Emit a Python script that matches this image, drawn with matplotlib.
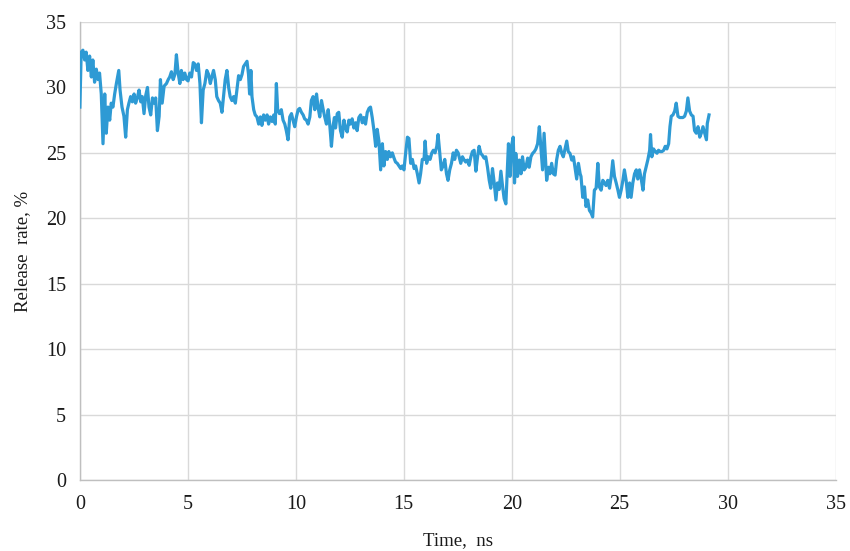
import matplotlib
matplotlib.use("Agg")
import matplotlib.pyplot as plt

# Simulation time (ns) and release rate (%)
time_ns = [
    0.00, 0.06, 0.14, 0.22, 0.29, 0.37, 0.45, 0.53, 0.60, 0.68, 0.76, 0.84, 0.91, 0.99,
    1.07, 1.15, 1.22, 1.30, 1.38, 1.45, 1.53, 1.61, 1.69, 1.80, 1.86, 1.95, 2.04, 2.12,
    2.20, 2.27, 2.35, 2.43, 2.51, 2.58, 2.66, 2.74, 2.82, 2.89, 2.97, 3.05, 3.13, 3.20,
    3.28, 3.36, 3.44, 3.51, 3.59, 3.67, 3.73, 3.81, 3.90, 4.01, 4.09, 4.16, 4.24, 4.32,
    4.40, 4.47, 4.55, 4.63, 4.70, 4.78, 4.86, 4.94, 5.01, 5.09, 5.17, 5.25, 5.32, 5.40,
    5.48, 5.56, 5.63, 5.71, 5.79, 5.88, 5.96, 6.04, 6.11, 6.19, 6.27, 6.34, 6.42, 6.50,
    6.58, 6.65, 6.73, 6.81, 6.89, 6.96, 7.04, 7.12, 7.20, 7.27, 7.35, 7.43, 7.51, 7.58,
    7.66, 7.74, 7.81, 7.86, 7.92, 7.97, 8.05, 8.12, 8.20, 8.28, 8.36, 8.43, 8.51, 8.59,
    8.67, 8.74, 8.82, 8.90, 8.98, 9.05, 9.10, 9.16, 9.24, 9.33, 9.41, 9.49, 9.56, 9.64,
    9.72, 9.80, 9.87, 9.95, 10.03, 10.11, 10.18, 10.26, 10.34, 10.41, 10.49, 10.57, 10.65,
    10.72, 10.80, 10.88, 10.96, 11.03, 11.11, 11.19, 11.27, 11.34, 11.42, 11.50, 11.58,
    11.65, 11.73, 11.79, 11.84, 11.92, 11.99, 12.07, 12.15, 12.23, 12.30, 12.38, 12.46,
    12.53, 12.61, 12.69, 12.77, 12.84, 12.92, 13.00, 13.08, 13.15, 13.23, 13.31, 13.39,
    13.46, 13.54, 13.62, 13.70, 13.77, 13.85, 13.93, 14.01, 14.08, 14.16, 14.24, 14.31,
    14.39, 14.47, 14.55, 14.62, 14.70, 14.78, 14.86, 14.93, 15.01, 15.09, 15.17, 15.24,
    15.32, 15.40, 15.48, 15.55, 15.63, 15.71, 15.78, 15.86, 15.94, 15.99, 16.06, 16.14,
    16.22, 16.30, 16.37, 16.45, 16.53, 16.59, 16.67, 16.74, 16.82, 16.90, 16.98, 17.05,
    17.13, 17.21, 17.29, 17.36, 17.44, 17.52, 17.64, 17.72, 17.80, 17.87, 17.95, 18.03,
    18.11, 18.18, 18.26, 18.34, 18.42, 18.49, 18.57, 18.65, 18.72, 18.80, 18.88, 18.96,
    19.03, 19.11, 19.19, 19.27, 19.34, 19.42, 19.50, 19.58, 19.65, 19.73, 19.81, 19.85,
    19.92, 19.99, 20.07, 20.13, 20.19, 20.27, 20.35, 20.43, 20.50, 20.58, 20.66, 20.74,
    20.81, 20.89, 20.97, 21.05, 21.12, 21.20, 21.28, 21.36, 21.43, 21.50, 21.56, 21.62,
    21.70, 21.77, 21.85, 21.93, 22.01, 22.08, 22.16, 22.24, 22.32, 22.39, 22.47, 22.55,
    22.62, 22.70, 22.78, 22.86, 22.93, 23.01, 23.09, 23.17, 23.21, 23.29, 23.37, 23.44,
    23.52, 23.60, 23.68, 23.75, 23.83, 23.91, 23.99, 24.06, 24.14, 24.22, 24.30, 24.37,
    24.45, 24.53, 24.61, 24.68, 24.76, 24.84, 24.92, 24.99, 25.07, 25.15, 25.22, 25.30,
    25.38, 25.46, 25.53, 25.61, 25.69, 25.77, 25.84, 25.92, 26.00, 26.08, 26.15, 26.23,
    26.31, 26.39, 26.43, 26.49, 26.57, 26.65, 26.73, 26.80, 26.88, 26.96, 27.04, 27.11,
    27.19, 27.27, 27.33, 27.39, 27.47, 27.55, 27.62, 27.70, 27.78, 27.86, 27.93, 28.01,
    28.09, 28.16, 28.24, 28.32, 28.40, 28.47, 28.55, 28.63, 28.71, 28.78, 28.86, 28.94,
    29.02, 29.06, 29.14,
]
release_rate = [
    28.5, 32.7, 32.85, 32.1, 32.7, 31.3, 32.4, 30.8, 32.1, 30.4, 31.4, 30.6, 31.1, 29.5,
    25.7, 29.5, 26.5, 28.5, 27.5, 28.8, 28.5, 29.5, 30.3, 31.3, 29.8, 28.5, 27.8, 26.2,
    28.3, 28.8, 29.3, 28.9, 29.5, 28.8, 29.2, 29.8, 28.9, 29.3, 28.0, 29.4, 30.0, 28.5,
    27.9, 29.2, 28.8, 29.2, 26.7, 27.8, 30.6, 28.8, 30.1, 30.3, 30.6, 30.8, 31.2, 30.6,
    31.0, 32.5, 31.1, 30.3, 31.3, 30.6, 31.1, 30.6, 30.5, 31.1, 30.8, 31.9, 31.8, 31.3,
    31.8, 30.3, 27.3, 29.8, 30.3, 31.3, 31.0, 30.3, 30.8, 31.3, 30.6, 29.3, 29.0, 28.8,
    28.1, 29.3, 30.6, 31.3, 30.0, 29.3, 29.0, 29.3, 28.8, 29.8, 30.9, 30.6, 31.0, 31.6,
    31.8, 32.0, 31.0, 29.5, 31.3, 29.3, 28.3, 27.9, 27.75, 27.2, 27.75, 27.1, 27.9, 27.5,
    27.9, 27.2, 27.75, 27.4, 27.9, 27.2, 30.3, 28.3, 28.0, 28.3, 27.5, 27.2, 26.7, 26.0,
    27.75, 28.0, 27.5, 27.0, 27.75, 28.3, 28.4, 28.1, 27.9, 27.6, 27.5, 27.2, 27.75,
    29.0, 29.3, 28.3, 29.5, 28.5, 27.75, 29.0, 28.3, 27.75, 27.2, 28.3, 27.0,
    25.5, 27.1, 27.7, 26.9, 28.0, 28.1, 26.7, 26.2, 27.5, 26.9, 26.6, 27.5,
    27.2, 27.6, 26.9, 27.3, 26.7, 27.7, 27.9, 27.3, 27.7, 27.2, 28.1, 28.4,
    28.5, 27.7, 26.7, 25.5, 26.8, 25.9, 23.7, 25.7, 24.0, 25.1, 24.5, 25.1,
    24.7, 25.0, 24.6, 24.3, 24.2, 24.0, 23.8, 24.0, 23.7, 25.0, 26.2, 26.1,
    24.2, 24.5, 23.8, 24.0, 23.4, 22.7, 23.4, 24.5, 24.5, 25.9, 24.2, 24.7,
    24.5, 25.0, 25.2, 25.0, 25.5, 26.4, 25.0, 23.7, 24.0, 24.5, 23.4, 22.9,
    23.7, 24.2, 25.0, 24.5, 25.2, 25.0, 24.2, 24.7, 24.45, 24.3, 24.45, 24.05,
    24.7, 25.1, 25.2, 23.6, 24.7, 25.5, 24.96, 24.8, 24.6, 24.7, 23.9, 22.9,
    22.3, 23.8, 22.7, 21.4, 22.7, 22.2, 23.6, 22.4, 21.5, 21.1, 24.2, 25.7,
    23.2, 25.5, 26.2, 22.7, 24.96, 23.2, 24.45, 23.4, 24.7, 23.7, 23.9, 24.6,
    23.9, 24.7, 24.96, 25.1, 25.3, 25.7, 27.0, 25.2, 23.7, 26.5, 24.7, 22.9,
    23.9, 23.4, 24.2, 23.4, 23.3, 24.45, 25.2, 25.5, 24.96, 24.7, 25.3, 25.9,
    25.1, 24.96, 24.45, 24.7, 23.9, 23.0, 24.2, 23.4, 23.2, 21.6, 22.4, 20.9,
    21.4, 20.6, 20.4, 20.1, 22.15, 22.3, 24.2, 22.4, 22.15, 22.9, 22.7, 22.5,
    22.9, 22.3, 23.2, 24.4, 23.2, 22.7, 22.15, 21.6, 22.15, 22.9, 23.7, 22.9,
    21.6, 22.7, 21.6, 22.7, 23.4, 23.7, 23.0, 23.7, 23.0, 22.15, 23.4, 23.95,
    24.5, 25.2, 26.4, 24.7, 25.3, 25.1, 24.97, 25.2, 25.1, 25.1, 25.2, 25.5,
    25.3, 25.7, 27.0, 27.8, 27.9, 28.2, 28.8, 27.8, 27.7, 27.7, 27.7, 27.8,
    28.2, 29.2, 28.2, 27.9, 27.8, 26.7, 26.5, 27.0, 26.2, 26.5, 27.0, 26.5,
    26.0, 27.25, 27.9,
]

x_ticks = [0, 5, 10, 15, 20, 25, 30, 35]
y_ticks = [0, 5, 10, 15, 20, 25, 30, 35]

plt.rcParams["font.family"] = ["Liberation Serif", "DejaVu Serif"]

fig = plt.figure(figsize=(8.5, 5.51), dpi=100)
ax = fig.add_axes([0.094, 0.129, 0.889, 0.831])

ax.plot(time_ns, release_rate, color="#2E9AD4", linewidth=2.3,
        solid_joinstyle="round", zorder=3)

ax.set_xlim(0, 35)
ax.set_ylim(0, 35)
ax.set_xticks(x_ticks)
ax.set_yticks(y_ticks)
ax.grid(True, color="#D9D9D9", linewidth=1.0, zorder=0)
ax.set_axisbelow(True)

for side in ["top", "right"]:
    ax.spines[side].set_visible(False)
for side in ["left", "bottom"]:
    ax.spines[side].set_color("#BFBFBF")
    ax.spines[side].set_linewidth(1.0)

ax.tick_params(axis="both", length=0, labelsize=14.5, colors="#1A1A1A")
ax.tick_params(axis="x", pad=11)
ax.tick_params(axis="y", pad=10)

ax.set_xlabel("Time,  ns", fontsize=13.5, color="#1A1A1A", labelpad=13)
ax.set_ylabel("Release  rate, %", fontsize=13.5, color="#1A1A1A", labelpad=11)

fig.savefig("out.png", dpi=100, facecolor="white")
